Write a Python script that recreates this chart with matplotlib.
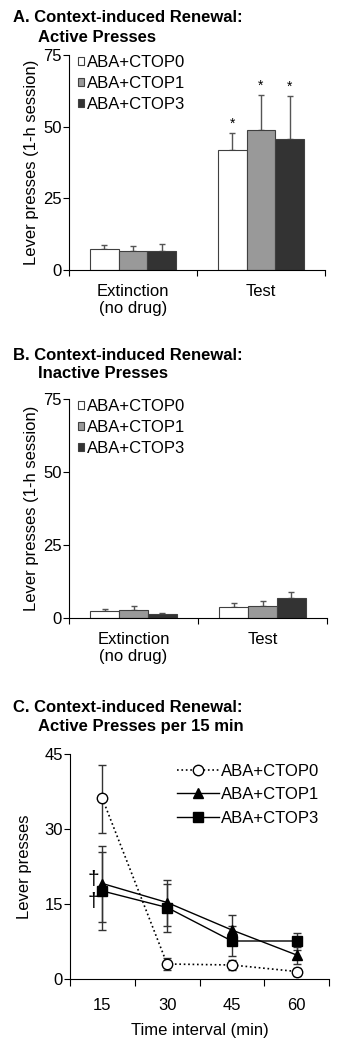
import numpy as np
import matplotlib
matplotlib.use("Agg")
import matplotlib.pyplot as plt
from matplotlib.ticker import FixedLocator

plt.rcParams['font.family'] = ['Liberation Sans', 'DejaVu Sans']
plt.rcParams['font.size'] = 12

groups = ['ABA+CTOP0', 'ABA+CTOP1', 'ABA+CTOP3']
phases = ['Extinction\n(no drug)', 'Test']

# panel A: active presses (mean, upper error)
active_mean = [[7.2, 41.9], [6.8, 48.7], [6.5, 45.8]]
active_err = [[1.5, 6.0], [1.6, 12.5], [2.6, 15.0]]
active_sig = [[False, True], [False, True], [False, True]]

# panel B: inactive presses
inactive_mean = [[2.3, 3.6], [2.9, 4.2], [1.4, 6.9]]
inactive_err = [[0.8, 1.7], [1.3, 1.6], [0.4, 2.1]]

# panel C: active presses per 15 min
intervals = [15, 30, 45, 60]
c_mean = {
    'ABA+CTOP0': [36.1, 3.0, 2.8, 1.5],
    'ABA+CTOP1': [19.1, 15.3, 9.8, 4.8],
    'ABA+CTOP3': [17.6, 14.3, 7.6, 7.6],
}
c_err = {
    'ABA+CTOP0': [6.8, 1.2, 1.0, 0.8],
    'ABA+CTOP1': [7.6, 4.6, 3.0, 1.7],
    'ABA+CTOP3': [7.8, 4.8, 3.0, 1.7],
}
dagger_y = [19.8, 15.6]

bar_colors = ['white', '#999999', '#333333']

W, H = 342, 1050
fig = plt.figure(figsize=(W / 100, H / 100), dpi=100)


def box(l, t, r, b):
    return [l / W, 1 - b / H, (r - l) / W, (b - t) / H]


def bar_panel(rect, means, errs, sig=None):
    ax = fig.add_axes(rect)
    x = np.arange(len(phases))
    width = 0.224
    for i, g in enumerate(groups):
        xs = x + (i - 1) * width
        ax.bar(xs, means[i], width, color=bar_colors[i], edgecolor='#404040',
               linewidth=0.8, label=g, zorder=2)
        ax.errorbar(xs, means[i], yerr=[np.zeros(len(phases)), errs[i]],
                    fmt='none', ecolor='#555555', elinewidth=1.0, capsize=2.5,
                    capthick=1.0, zorder=1)
        if sig is not None:
            for j in range(len(phases)):
                if sig[i][j]:
                    ax.text(xs[j], means[i][j] + errs[i][j] + 0.6, '*',
                            ha='center', va='bottom', fontsize=10)
    ax.set_xlim(-0.5, 1.5)
    ax.set_ylim(0, 75)
    ax.set_yticks([0, 25, 50, 75])
    ax.xaxis.set_major_locator(FixedLocator([-0.5, 0.5, 1.5]))
    ax.xaxis.set_minor_locator(FixedLocator(x))
    ax.xaxis.set_major_formatter(plt.NullFormatter())
    ax.set_xticklabels(phases, minor=True)
    ax.tick_params(axis='x', which='major', length=4, direction='out')
    ax.tick_params(axis='x', which='minor', length=0, pad=10)
    ax.tick_params(axis='y', length=4, pad=1)
    for s in ['top', 'right']:
        ax.spines[s].set_visible(False)
    ax.set_ylabel('Lever presses (1-h session)', labelpad=3)
    ax.legend(loc='upper left', bbox_to_anchor=(0.01, 1.03), frameon=False,
              handlelength=0.35, handleheight=0.35, handletextpad=0.15,
              labelspacing=0.36, borderaxespad=0)
    return ax


# panel A
fig.text(13 / W, 1 - 18 / H, 'A. Context-induced Renewal:', fontweight='bold', va='center')
fig.text(38 / W, 1 - 37 / H, 'Active Presses', fontweight='bold', va='center')
bar_panel(box(69, 55, 325, 270), active_mean, active_err, active_sig)

# panel B
fig.text(13 / W, 1 - 355 / H, 'B. Context-induced Renewal:', fontweight='bold', va='center')
fig.text(38 / W, 1 - 373 / H, 'Inactive Presses', fontweight='bold', va='center')
bar_panel(box(69, 399, 327, 618), inactive_mean, inactive_err)

# panel C
fig.text(13 / W, 1 - 708 / H, 'C. Context-induced Renewal:', fontweight='bold', va='center')
fig.text(38 / W, 1 - 726 / H, 'Active Presses per 15 min', fontweight='bold', va='center')
axc = fig.add_axes(box(70, 754, 329, 979))
styles = {
    'ABA+CTOP0': dict(ls=':', marker='o', mfc='white', ms=7.5, lw=1.2),
    'ABA+CTOP1': dict(ls='-', marker='^', mfc='black', ms=7.5, lw=1.0),
    'ABA+CTOP3': dict(ls='-', marker='s', mfc='black', ms=7, lw=1.0),
}
handles = []
for g in groups:
    st = styles[g]
    cont = axc.errorbar(intervals, c_mean[g], yerr=c_err[g], color='black',
                        ecolor='#333333', elinewidth=1.0, capsize=3, capthick=1.0,
                        linestyle=st['ls'], lw=st['lw'], marker=st['marker'],
                        mfc=st['mfc'], mec='black', ms=st['ms'], label=g)
    handles.append(cont.lines[0])
for yv in dagger_y:
    axc.text(12.8, yv, '\u2020', ha='center', va='center', fontsize=15)
axc.set_xlim(7.5, 67.5)
axc.set_ylim(0, 45)
axc.set_yticks([0, 15, 30, 45])
axc.xaxis.set_major_locator(FixedLocator([7.5, 22.5, 37.5, 52.5, 67.5]))
axc.xaxis.set_minor_locator(FixedLocator(intervals))
axc.xaxis.set_major_formatter(plt.NullFormatter())
axc.set_xticklabels([str(v) for v in intervals], minor=True)
axc.tick_params(axis='x', which='major', length=5, direction='out')
axc.tick_params(axis='x', which='minor', length=0, pad=14)
axc.tick_params(axis='y', length=4, pad=1)
for s in ['top', 'right']:
    axc.spines[s].set_visible(False)
axc.set_ylabel('Lever presses', labelpad=9)
axc.set_xlabel('Time interval (min)', labelpad=7)
axc.legend(handles, groups, loc='upper right', bbox_to_anchor=(1.0, 1.0),
           frameon=False, handlelength=2.5, handletextpad=0.1,
           labelspacing=0.5, borderaxespad=0.2)

fig.savefig('out.png', dpi=100)
